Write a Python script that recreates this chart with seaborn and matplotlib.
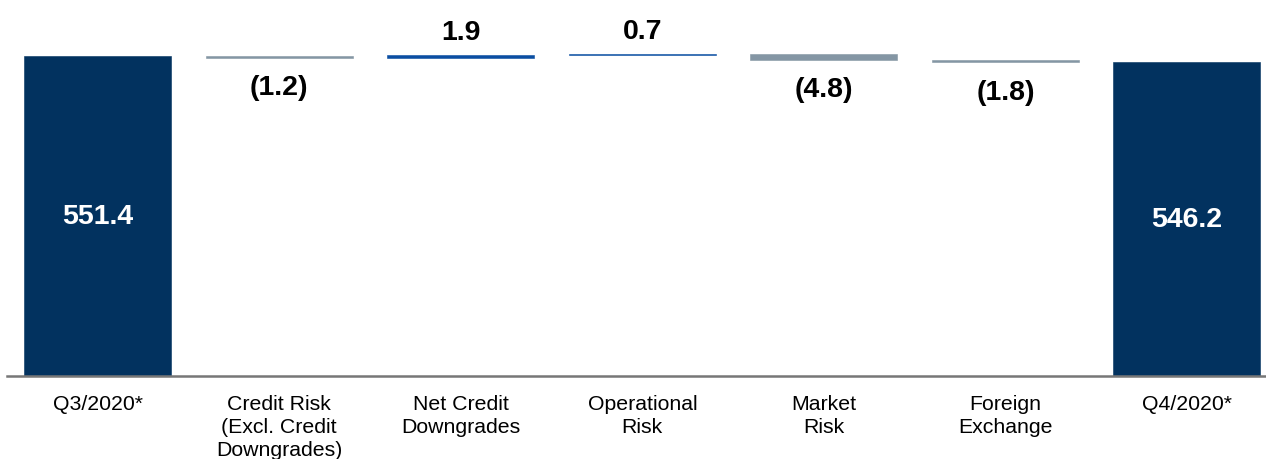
import matplotlib
matplotlib.use("Agg")
import matplotlib.pyplot as plt
import seaborn as sns
import numpy as np

# Risk-weighted assets bridge (values in billions)
categories = [
    "Q3/2020*",
    "Credit Risk\n(Excl. Credit\nDowngrades)",
    "Net Credit\nDowngrades",
    "Operational\nRisk",
    "Market\nRisk",
    "Foreign\nExchange",
    "Q4/2020*",
]
start_total = 551.4
changes = [-1.2, 1.9, 0.7, -4.8, -1.8]
end_total = 546.2
change_labels = ["(1.2)", "1.9", "0.7", "(4.8)", "(1.8)"]
total_labels = ["551.4", "546.2"]

NAVY = "#02325F"
BLUE = "#0B4EA2"
GREY = "#8496A4"

sns.set_theme(style="white")
plt.rcParams["font.family"] = ["Liberation Sans", "DejaVu Sans"]

# Floating segments: each change starts where the running total left off
running = np.concatenate([[start_total], start_total + np.cumsum(changes)])
y_min = 288.1
bottoms = [y_min]
heights = [start_total - y_min]
colors = [NAVY]
for i, c in enumerate(changes):
    lo = min(running[i], running[i + 1])
    bottoms.append(lo)
    heights.append(abs(c))
    colors.append(BLUE if c > 0 else GREY)
bottoms.append(y_min)
heights.append(end_total - y_min)
colors.append(NAVY)

fig = plt.figure(figsize=(12.66, 4.60), dpi=100)
ax = fig.add_axes([7 / 1266, 1 - 377 / 460, 1258 / 1266, 377 / 460])

x_pos = list(range(len(categories)))
sns.barplot(x=x_pos, y=heights, bottom=bottoms, color=NAVY, width=0.81,
            saturation=1, ax=ax, native_scale=True)
for patch, col in zip(ax.patches, colors):
    patch.set_facecolor(col)
    patch.set_edgecolor(col)
    patch.set_linewidth(0.4)

ax.set_xlim(-0.5, 6.43)
ax.set_ylim(y_min, 598.45)

# Totals inside the dark bars
for idx, (val, lab) in enumerate([(start_total, total_labels[0]), (end_total, total_labels[1])]):
    xi = 0 if idx == 0 else len(categories) - 1
    ax.text(xi, (y_min + val) / 2, lab, ha="center", va="center",
            color="white", fontsize=20.5, fontweight="bold")

# Change labels above rises and below falls
for i, (c, lab) in enumerate(zip(changes, change_labels)):
    xi = i + 1
    top = max(running[i], running[i + 1])
    low = min(running[i], running[i + 1])
    if c > 0:
        ax.annotate(lab, (xi, top), xytext=(0, 17), textcoords="offset points",
                    ha="center", va="center", fontsize=20.5, fontweight="bold",
                    color="black", annotation_clip=False)
    else:
        ax.annotate(lab, (xi, low), xytext=(0, -21), textcoords="offset points",
                    ha="center", va="center", fontsize=20.5, fontweight="bold",
                    color="black", annotation_clip=False)

ax.set_xticks(x_pos)
ax.set_xticklabels(categories, fontsize=15.3, color="black", linespacing=1.27)
ax.tick_params(axis="x", length=0, pad=13)
ax.set_yticks([])
ax.set_xlabel("")
ax.set_ylabel("")
for side in ["top", "right", "left"]:
    ax.spines[side].set_visible(False)
ax.spines["bottom"].set_color("#777777")
ax.spines["bottom"].set_linewidth(1.8)

fig.savefig("out.png", dpi=100)
